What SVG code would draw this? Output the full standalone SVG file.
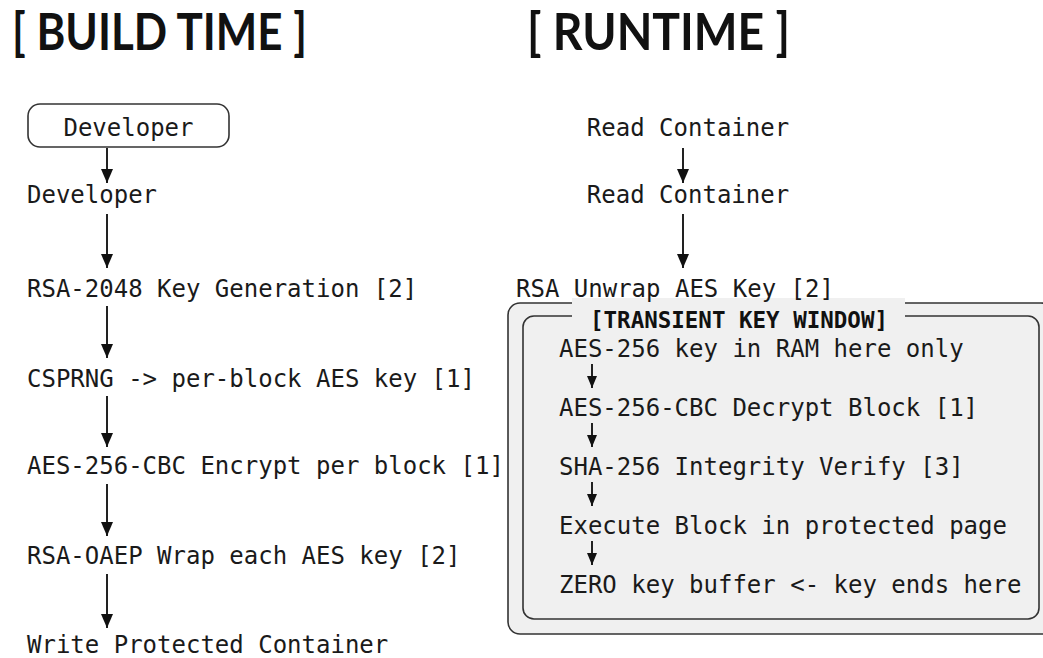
<svg xmlns="http://www.w3.org/2000/svg" width="1043" height="658" viewBox="0 0 1043 658">
  <style>
    .head { font-family: Lato, "Noto Sans", "DejaVu Sans", sans-serif; font-weight: 700; font-size: 51px; fill: #111; }
    .mono { font-family: "DejaVu Sans Mono", "Liberation Mono", monospace; font-size: 24px; fill: #1a1a1a; }
    .title { font-family: "DejaVu Sans Mono", "Liberation Mono", monospace; font-size: 22.5px; font-weight: 700; fill: #111; }
    .edge { stroke: #222; stroke-width: 2; fill: none; }
    .frame { stroke: #333; stroke-width: 1.6; fill: #f0f0f0; }
  </style>
  <defs>
    <marker id="arrow" viewBox="0 0 14 12" refX="14" refY="6" markerWidth="14" markerHeight="12" markerUnits="userSpaceOnUse" orient="auto">
      <path d="M0,0 L14,6 L0,12 Z" fill="#111"/>
    </marker>
    <marker id="arrow-sm" viewBox="0 0 12 10" refX="12" refY="5" markerWidth="12" markerHeight="10" markerUnits="userSpaceOnUse" orient="auto">
      <path d="M0,0 L12,5 L0,10 Z" fill="#111"/>
    </marker>
  </defs>

  <rect width="1043" height="658" fill="#ffffff"/>

  <!-- column headings -->
  <text class="head" x="12" y="50" textLength="295" lengthAdjust="spacingAndGlyphs">[ BUILD TIME ]</text>
  <text class="head" x="527" y="50" textLength="263" lengthAdjust="spacingAndGlyphs">[ RUNTIME ]</text>

  <!-- transient key window frame -->
  <g id="key-window">
    <rect class="frame" x="508" y="303" width="545" height="331" rx="12"/>
    <rect class="frame" x="523" y="316" width="516" height="303" rx="11"/>
    <!-- gap behind the title -->
    <rect x="572" y="298" width="333" height="24" fill="#f0f0f0"/>
    <text class="title" x="739" y="328" text-anchor="middle" textLength="298" lengthAdjust="spacingAndGlyphs">[TRANSIENT KEY WINDOW]</text>
  </g>

  <!-- connectors -->
  <g id="connectors">
    <line class="edge" x1="107" y1="148" x2="107" y2="183" marker-end="url(#arrow)"/>
    <line class="edge" x1="107" y1="214" x2="107" y2="268" marker-end="url(#arrow)"/>
    <line class="edge" x1="107" y1="306" x2="107" y2="358" marker-end="url(#arrow)"/>
    <line class="edge" x1="107" y1="396" x2="107" y2="447" marker-end="url(#arrow)"/>
    <line class="edge" x1="107" y1="484" x2="107" y2="536" marker-end="url(#arrow)"/>
    <line class="edge" x1="107" y1="574" x2="107" y2="628" marker-end="url(#arrow)"/>

    <line class="edge" x1="683" y1="148" x2="683" y2="183" marker-end="url(#arrow)"/>
    <line class="edge" x1="683" y1="214" x2="683" y2="268" marker-end="url(#arrow)"/>

    <line class="edge" x1="592" y1="364" x2="592" y2="388" marker-end="url(#arrow-sm)"/>
    <line class="edge" x1="592" y1="423" x2="592" y2="447" marker-end="url(#arrow-sm)"/>
    <line class="edge" x1="592" y1="482" x2="592" y2="506" marker-end="url(#arrow-sm)"/>
    <line class="edge" x1="592" y1="541" x2="592" y2="565" marker-end="url(#arrow-sm)"/>
  </g>

  <!-- build time nodes -->
  <g id="dev-box">
    <rect x="28" y="104" width="201" height="43" rx="12" fill="#ffffff" stroke="#333" stroke-width="1.6"/>
    <text class="mono" x="128.5" y="136" text-anchor="middle">Developer</text>
  </g>
  <g id="developer"><text class="mono" x="27" y="203">Developer</text></g>
  <g id="rsa-keygen"><text class="mono" x="27" y="297">RSA-2048 Key Generation [2]</text></g>
  <g id="csprng"><text class="mono" x="27" y="387">CSPRNG -&gt; per-block AES key [1]</text></g>
  <g id="aes-encrypt"><text class="mono" x="27" y="474">AES-256-CBC Encrypt per block [1]</text></g>
  <g id="rsa-wrap"><text class="mono" x="27" y="564">RSA-OAEP Wrap each AES key [2]</text></g>
  <g id="write-container"><text class="mono" x="27" y="653">Write Protected Container</text></g>

  <!-- runtime nodes -->
  <g id="read-1"><text class="mono" x="688" y="136" text-anchor="middle">Read Container</text></g>
  <g id="read-2"><text class="mono" x="688" y="203" text-anchor="middle">Read Container</text></g>
  <g id="rsa-unwrap"><text class="mono" x="516" y="297">RSA Unwrap AES Key [2]</text></g>
  <g id="key-in-ram"><text class="mono" x="559" y="357">AES-256 key in RAM here only</text></g>
  <g id="aes-decrypt"><text class="mono" x="559" y="416">AES-256-CBC Decrypt Block [1]</text></g>
  <g id="sha-verify"><text class="mono" x="559" y="475">SHA-256 Integrity Verify [3]</text></g>
  <g id="execute"><text class="mono" x="559" y="534">Execute Block in protected page</text></g>
  <g id="zero-key"><text class="mono" x="559" y="593">ZERO key buffer &lt;- key ends here</text></g>
</svg>
